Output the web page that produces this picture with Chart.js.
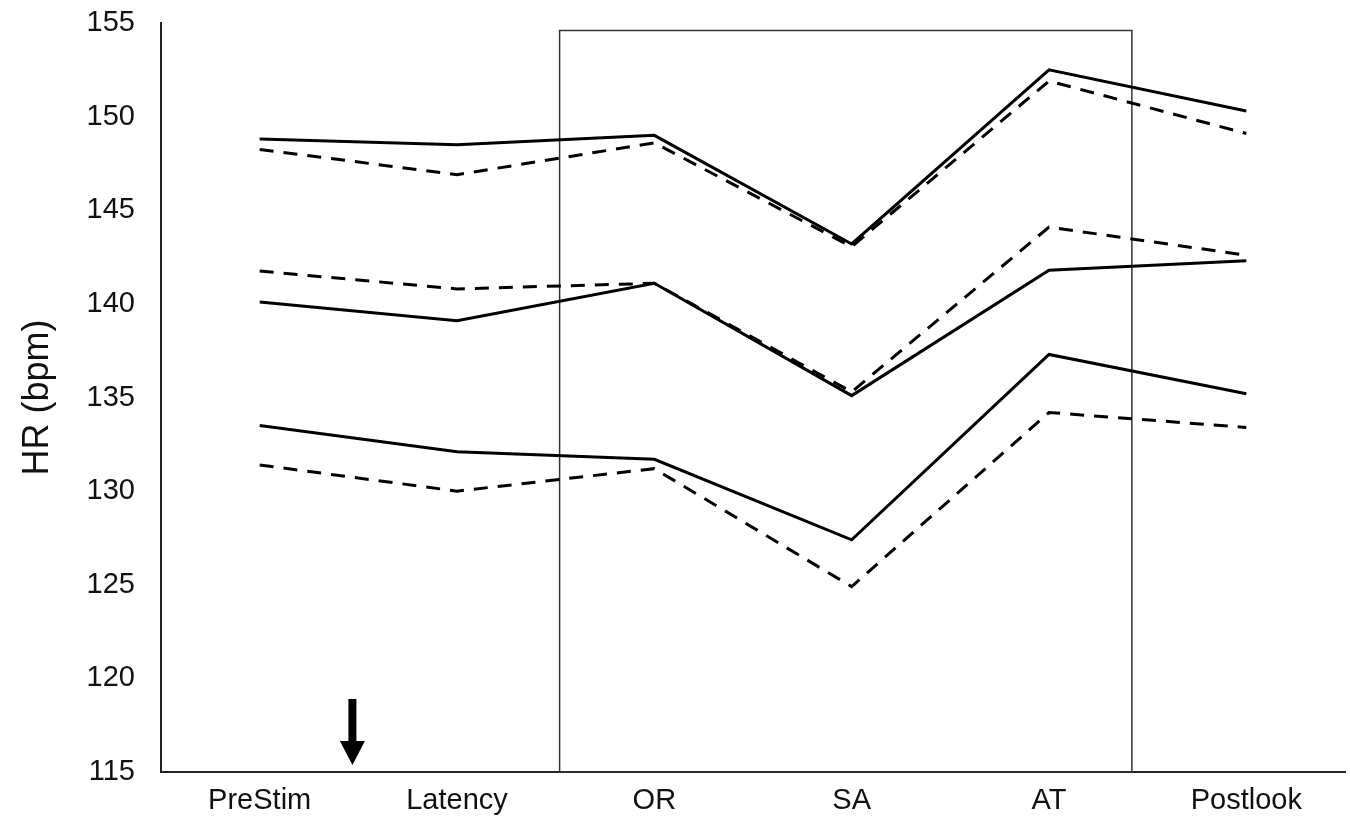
<!DOCTYPE html>
<html>
<head>
<meta charset="utf-8">
<script src="https://cdn.jsdelivr.net/npm/chart.js@4.4.1/dist/chart.umd.min.js"></script>
<style>
  html, body { margin: 0; padding: 0; background: #fff; }
  #wrap { width: 1350px; height: 827px; position: relative; }
</style>
</head>
<body>
<div id="wrap"><canvas id="chart"></canvas></div>
<script>
// phases on the x axis
const phases = ['PreStim', 'Latency', 'OR', 'SA', 'AT', 'Postlook'];

// three pairs of curves, solid and dashed
const topSolid    = [148.8, 148.5, 149.0, 143.2, 152.5, 150.3];
const topDashed   = [148.25, 146.9, 148.6, 143.05, 151.9, 149.1];
const midSolid    = [140.1, 139.1, 141.1, 135.1, 141.8, 142.3];
const midDashed   = [141.75, 140.8, 141.1, 135.3, 144.1, 142.6];
const lowSolid    = [133.5, 132.1, 131.7, 127.4, 137.3, 135.2];
const lowDashed   = [131.4, 130.0, 131.2, 124.9, 134.2, 133.4];

const yMin = 115, yMax = 155, yStep = 5;

const FONT = '"Liberation Sans", Arial, sans-serif';

const line = (data, dashed) => ({
  data,
  borderColor: '#000',
  borderWidth: 3,
  borderDash: dashed ? [14, 10] : [],
  pointRadius: 0,
  tension: 0,
  fill: false
});

// rectangle around OR..AT and the stimulus arrow, placed in scale units
const decorPlugin = {
  id: 'decor',
  beforeDatasetsDraw(chart) {
    const { ctx, scales: { x, y } } = chart;
    ctx.save();
    // box
    const bx0 = x.getPixelForValue(1.52), bx1 = x.getPixelForValue(4.42);
    const by0 = y.getPixelForValue(154.6), by1 = y.getPixelForValue(115);
    ctx.strokeStyle = '#333';
    ctx.lineWidth = 1.5;
    ctx.strokeRect(bx0, by0, bx1 - bx0, by1 - by0);

    // arrow
    const ax = x.getPixelForValue(0.47);
    const aTop = y.getPixelForValue(118.9);
    const aHead = y.getPixelForValue(116.66);
    const aTip = y.getPixelForValue(115.37);
    ctx.fillStyle = '#000';
    ctx.fillRect(ax - 4, aTop, 8, aHead - aTop + 1);
    ctx.beginPath();
    ctx.moveTo(ax - 12.5, aHead);
    ctx.lineTo(ax + 12.5, aHead);
    ctx.lineTo(ax, aTip);
    ctx.closePath();
    ctx.fill();
    ctx.restore();
  }
};

new Chart(document.getElementById('chart'), {
  type: 'line',
  data: {
    labels: phases,
    datasets: [
      line(topSolid, false), line(topDashed, true),
      line(midSolid, false), line(midDashed, true),
      line(lowSolid, false), line(lowDashed, true)
    ]
  },
  options: {
    responsive: true,
    maintainAspectRatio: false,
    animation: false,
    layout: { padding: { top: 23, right: 5, left: 0, bottom: 0 } },
    plugins: { legend: { display: false }, tooltip: { enabled: false } },
    scales: {
      x: {
        offset: true,
        grid: { display: false, drawTicks: false },
        border: { display: true, color: '#222', width: 2 },
        ticks: { color: '#111', padding: 12, font: { family: FONT, size: 29 } },
        afterFit(s) { s.height = 55; s.paddingLeft = 0; s.paddingRight = 0; }
      },
      y: {
        min: yMin,
        max: yMax,
        grid: { display: false, drawTicks: false },
        border: { display: true, color: '#222', width: 2 },
        ticks: { stepSize: yStep, color: '#111', padding: 26, font: { family: FONT, size: 29 } },
        title: { display: true, text: 'HR (bpm)', color: '#111', padding: { top: 16, bottom: 0 }, font: { family: FONT, size: 36 } },
        afterFit(s) { s.width = 161; s.paddingTop = 0; s.paddingBottom = 0; }
      }
    }
  },
  plugins: [decorPlugin]
});
</script>
</body>
</html>
